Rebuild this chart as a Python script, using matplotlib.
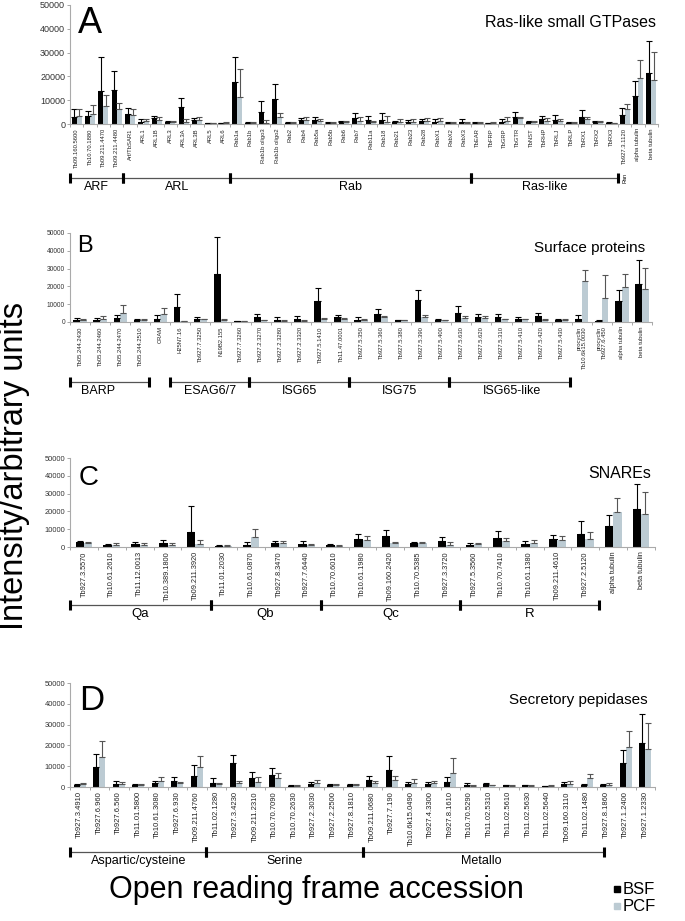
import matplotlib
matplotlib.use("Agg")
import matplotlib.pyplot as plt
import matplotlib.transforms as mtrans
import numpy as np

plt.rcParams['font.family'] = ['Liberation Sans', 'DejaVu Sans']

W, H = 685, 921
BSF_COL = 'black'
PCF_COL = '#bccbd3'

# values are in thousands of intensity units; *_hi = top of the error bar
# A - Ras-like small GTPases
labels_a = ["Tb09.160.5600", "Tb10.70.1880", "Tb09.211.4470", "Tb09.211.4480", "Arf/TbSAR1",
            "ARL1", "ARL1B", "ARL3", "ARL3A", "ARL3B", "ARL5", "ARL6",
            "Rab1a", "Rab1b", "Rab1b oligo3", "Rab1b oligo2", "Rab2", "Rab4", "Rab5a", "Rab5b",
            "Rab6", "Rab7", "Rab11a", "Rab18", "Rab21", "Rab23", "Rab28", "RabX1", "RabX2", "RabX3",
            "TbEAR", "TbFRP", "TbGRP", "TbGTR", "TbNST", "TbRHP", "TbRLJ", "TbRLP", "TbRX1", "TbRX2",
            "TbRX3", "Tb927.3.1120", "alpha tubulin", "beta tubulin"]
bsf_a = [3.0, 3.3, 14.0, 14.3, 4.2, 1.0, 2.6, 0.7, 7.2, 1.7, 0.4, 0.3, 17.5, 0.6, 5.0, 10.5,
         0.5, 1.7, 1.7, 0.4, 0.7, 2.4, 1.7, 1.5, 0.7, 0.7, 1.1, 1.0, 0.6, 0.8, 0.6, 0.3, 1.0,
         2.8, 0.8, 2.0, 1.7, 0.4, 2.8, 0.8, 0.6, 3.8, 11.7, 21.4]
bsf_a_hi = [6.1, 5.4, 28.3, 22.4, 6.8, 2.0, 3.5, 1.1, 11.1, 2.6, 0.6, 0.6, 28.0, 1.0, 9.5, 17.0,
            0.9, 2.7, 2.8, 0.8, 1.4, 4.5, 3.2, 4.5, 1.4, 1.5, 2.1, 2.1, 1.0, 2.0, 0.8, 0.5, 2.0,
            5.2, 1.4, 3.5, 3.6, 0.7, 5.9, 1.3, 0.8, 6.7, 18.0, 35.0]
pcf_a = [3.3, 4.3, 7.5, 6.5, 3.7, 1.4, 1.7, 0.8, 0.7, 1.7, 0.4, 0.5, 11.5, 0.4, 0.5, 3.0,
         0.6, 1.7, 1.1, 0.6, 0.8, 1.4, 0.8, 0.8, 0.9, 0.8, 1.4, 1.4, 0.6, 0.5, 0.5, 0.4, 1.4,
         2.4, 0.7, 1.4, 1.1, 0.4, 2.3, 0.8, 0.4, 6.1, 19.5, 18.4]
pcf_a_hi = [6.5, 7.8, 12.0, 9.0, 6.1, 2.0, 2.8, 1.2, 2.0, 2.8, 0.5, 0.8, 23.3, 0.7, 1.5, 4.8,
            1.0, 2.8, 2.0, 1.0, 1.4, 3.0, 1.4, 3.5, 2.1, 1.9, 2.4, 2.7, 1.0, 1.0, 0.8, 0.7, 2.8,
            3.0, 1.1, 2.4, 2.2, 0.7, 2.8, 1.4, 0.6, 8.5, 27.1, 30.3]
# name, start, end, label position
groups_a = [("ARF", -0.5, 3.5, 1.5), ("ARL", 3.5, 11.5, 7.5), ("Rab", 11.5, 29.5, 20.5),
            ("Ras-like", 29.5, 40.5, 35.0)]

# B - Surface proteins
labels_b = ["Tb05.244.2430", "Tb05.244.2460", "Tb05.244.2470", "Tb05.244.2510", "CRAM",
            "H25N7.16", "Tb927.7.3250", "N19B2.155", "Tb927.7.3260", "Tb927.2.3270",
            "Tb927.2.3280", "Tb927.2.3320", "Tb927.5.1410", "Tb11.47.0001", "Tb927.5.350",
            "Tb927.5.360", "Tb927.5.380", "Tb927.5.390", "Tb927.5.400", "Tb927.5.630",
            "Tb927.5.620", "Tb927.5.310", "Tb927.5.410", "Tb927.5.420", "Tb927.5.430",
            "procyclin\nTb10.6k15.0030", "procyclin\nTb927.6.450", "alpha tubulin", "beta tubulin"]
bsf_b = [1.3, 1.3, 2.4, 1.1, 1.5, 8.6, 1.7, 27.0, 0.5, 2.8, 0.9, 1.7, 12.0, 2.6, 1.3, 4.7, 0.9,
         12.2, 1.1, 5.0, 2.8, 2.8, 1.7, 3.2, 1.3, 1.7, 0.7, 12.0, 21.5]
bsf_b_hi = [2.0, 2.0, 3.9, 1.9, 3.9, 15.9, 2.8, 48.0, 0.7, 4.3, 2.8, 3.5, 19.3, 4.1, 2.6, 7.3,
            1.3, 18.2, 1.7, 9.2, 4.5, 4.5, 2.6, 4.9, 1.9, 3.7, 0.9, 17.8, 35.0]
pcf_b = [0.9, 1.9, 5.0, 1.1, 4.7, 0.4, 1.5, 1.1, 0.5, 0.9, 0.7, 0.7, 1.7, 1.7, 0.9, 2.8, 0.9,
         2.6, 0.9, 2.2, 2.2, 1.5, 1.5, 0.9, 1.1, 23.2, 13.7, 19.5, 18.4]
pcf_b_hi = [1.5, 3.5, 9.4, 1.7, 8.0, 0.6, 1.9, 1.7, 0.7, 1.3, 1.1, 1.1, 2.0, 2.0, 1.7, 3.5, 1.3,
            3.9, 1.3, 3.2, 3.2, 1.9, 1.9, 1.5, 1.5, 29.2, 26.4, 27.2, 30.5]
groups_b = [("BARP", -0.5, 3.45, 0.9), ("ESAG6/7", 4.5, 8.4, 6.5), ("ISG65", 8.4, 13.4, 10.95),
            ("ISG75", 13.4, 18.4, 15.9), ("ISG65-like", 18.4, 24.4, 21.5)]

# C - SNAREs
labels_c = ["Tb927.3.5570", "Tb10.61.2610", "Tb11.12.0013", "Tb10.389.1800", "Tb09.211.3920",
            "Tb11.01.2030", "Tb10.61.0870", "Tb927.8.3470", "Tb927.7.6440", "Tb10.70.6010",
            "Tb10.61.1980", "Tb09.160.2420", "Tb10.70.5385", "Tb927.3.3720", "Tb927.5.3560",
            "Tb10.70.7410", "Tb10.61.1380", "Tb09.211.4610", "Tb927.2.5120", "alpha tubulin",
            "beta tubulin"]
bsf_c = [2.8, 1.1, 1.5, 2.2, 8.4, 0.7, 1.3, 2.0, 1.9, 0.9, 4.5, 6.4, 2.0, 3.2, 1.3, 5.2, 1.9,
         4.5, 7.3, 12.0, 21.5]
bsf_c_hi = [3.4, 1.9, 2.8, 3.7, 22.8, 1.3, 2.8, 3.5, 3.2, 1.5, 7.1, 9.4, 2.8, 5.6, 2.0, 8.8,
            3.2, 6.9, 14.6, 18.0, 35.2]
pcf_c = [2.2, 1.3, 1.1, 1.3, 1.9, 0.6, 5.6, 2.2, 1.1, 0.7, 4.1, 2.2, 2.0, 1.3, 1.5, 3.2, 2.4,
         3.7, 4.3, 19.7, 18.4]
pcf_c_hi = [2.8, 2.2, 2.2, 2.4, 3.7, 0.9, 9.9, 3.5, 1.7, 1.1, 6.0, 3.0, 2.8, 2.8, 2.2, 5.0,
            3.9, 6.4, 8.6, 27.3, 30.7]
groups_c = [("Qa", -0.5, 4.55, 2.0), ("Qb", 4.55, 8.5, 6.5), ("Qc", 8.5, 13.5, 11.0),
            ("R", 13.5, 18.5, 16.0)]

# D - Secretory peptidases
labels_d = ["Tb927.3.4910", "Tb927.6.960", "Tb927.6.560", "Tb11.01.5800", "Tb10.61.3080",
            "Tb927.6.930", "Tb09.211.4760", "Tb11.02.1280", "Tb927.3.4230", "Tb09.211.2310",
            "Tb10.70.7090", "Tb10.70.2630", "Tb927.2.3030", "Tb927.2.2500", "Tb927.8.1810",
            "Tb09.211.0680", "Tb927.7.190", "Tb10.6k15.0490", "Tb927.4.3300", "Tb927.8.1610",
            "Tb10.70.5290", "Tb11.02.5310", "Tb11.02.5610", "Tb11.02.5630", "Tb11.02.5640",
            "Tb09.160.3110", "Tb11.02.1480", "Tb927.8.1860", "Tb927.1.2400", "Tb927.1.2330"]
bsf_d = [1.0, 9.7, 1.6, 1.0, 1.8, 3.0, 5.1, 2.1, 11.3, 4.3, 5.6, 0.6, 1.6, 1.0, 1.0, 3.5, 8.3,
         1.6, 1.6, 2.2, 1.0, 1.3, 0.8, 0.8, 0.3, 1.4, 1.0, 0.8, 11.6, 21.2]
bsf_d_hi = [1.3, 15.9, 2.7, 1.6, 2.7, 4.6, 10.5, 4.3, 15.3, 7.0, 8.9, 1.0, 2.5, 1.3, 1.3, 5.4,
            14.8, 2.5, 2.5, 4.8, 1.8, 2.1, 1.1, 1.0, 0.5, 2.2, 1.4, 1.6, 18.0, 35.0]
pcf_d = [1.3, 14.3, 1.4, 0.8, 2.9, 1.8, 9.6, 1.3, 1.9, 2.4, 4.1, 0.6, 1.9, 1.0, 1.1, 1.9, 3.2,
         1.9, 1.9, 6.7, 0.5, 0.8, 0.6, 0.6, 0.6, 1.4, 4.1, 1.1, 19.3, 18.2]
pcf_d_hi = [1.8, 22.0, 2.2, 1.4, 4.8, 2.4, 14.8, 1.9, 2.9, 4.6, 6.5, 1.0, 3.2, 1.4, 1.6, 2.7,
            5.4, 3.8, 2.9, 13.9, 0.8, 1.1, 1.0, 0.8, 1.0, 2.9, 6.1, 2.1, 27.1, 30.6]
groups_d = [("Aspartic/cysteine", -0.5, 6.45, 3.0), ("Serine", 6.45, 14.5, 10.5),
            ("Metallo", 14.5, 26.9, 20.6)]


def fx(px):
    return px / W


def fy(py):
    return 1 - py / H


def panel(fig, box, labels, bsf, bsf_hi, pcf, pcf_hi, width, tick_fs, ytick_fs):
    left, top, right, bottom = box
    ax = fig.add_axes([fx(left), fy(bottom), (right - left) / W, (bottom - top) / H])
    x = np.arange(len(labels))
    b = np.array(bsf) * 1000
    p = np.array(pcf) * 1000
    ax.bar(x - width / 2, b, width, color=BSF_COL, zorder=2)
    ax.bar(x + width / 2, p, width, color=PCF_COL, zorder=2)
    ax.errorbar(x - width / 2, b, yerr=[np.zeros_like(b), np.array(bsf_hi) * 1000 - b],
                fmt='none', ecolor='black', elinewidth=0.8, capsize=2, capthick=0.8, zorder=3)
    ax.errorbar(x + width / 2, p, yerr=[np.zeros_like(p), np.array(pcf_hi) * 1000 - p],
                fmt='none', ecolor='#555555', elinewidth=0.8, capsize=2, capthick=0.8, zorder=3)
    ax.set_yticks(range(0, 50001, 10000))
    ax.set_xticks(x)
    ax.set_xticklabels(labels, rotation=90, fontsize=tick_fs, color='#222222',
                       multialignment='right')
    ax.set_xticks(np.arange(len(labels) + 1) - 0.5, minor=True)
    ax.tick_params(axis='x', which='major', length=0, pad=3)
    ax.tick_params(axis='x', which='minor', length=2, color='#999999', width=0.6)
    ax.tick_params(axis='y', length=2, color='#999999', width=0.6, labelsize=ytick_fs,
                   labelcolor='#333333', pad=1.5)
    for s in ['top', 'right']:
        ax.spines[s].set_visible(False)
    for s in ['left', 'bottom']:
        ax.spines[s].set_color('#aaaaaa')
        ax.spines[s].set_linewidth(0.8)
    return ax


def brackets(fig, ax, groups, ypx, fs):
    tr = mtrans.blended_transform_factory(ax.transData, fig.transFigure)
    for name, x0, x1, xl in groups:
        ax.plot([x0, x1], [fy(ypx), fy(ypx)], transform=tr, color='#555555', lw=0.9,
                clip_on=False)
        ax.plot([x0, x1], [fy(ypx), fy(ypx)], transform=tr, ls='none', marker='|', ms=6.5,
                mew=2.2, color='black', clip_on=False)
        ax.text(xl, fy(ypx + 3), name, transform=tr, ha='center', va='top', fontsize=fs)
    ax.set_xlim(-0.5, len(ax.get_xticks()) - 0.5)
    ax.set_ylim(0, 50000)


fig = plt.figure(figsize=(W / 100, H / 100), dpi=100)

ax_a = panel(fig, (70, 5, 658, 124), labels_a, bsf_a, bsf_a_hi, pcf_a, pcf_a_hi, 0.38, 4.2, 6.5)
tr = mtrans.blended_transform_factory(ax_a.transData, fig.transFigure)
ax_a.text(41, fy(178), "Ran", transform=tr, rotation=90, fontsize=4, ha='center', va='center')
brackets(fig, ax_a, groups_a, 178, 9)

ax_b = panel(fig, (70, 233, 652, 322), labels_b, bsf_b, bsf_b_hi, pcf_b, pcf_b_hi, 0.33, 4.2, 4.8)
brackets(fig, ax_b, groups_b, 382, 9)

ax_c = panel(fig, (70, 458, 655, 547), labels_c, bsf_c, bsf_c_hi, pcf_c, pcf_c_hi, 0.3, 5.3, 5.4)
brackets(fig, ax_c, groups_c, 605, 9.5)

ax_d = panel(fig, (70, 683, 655, 787), labels_d, bsf_d, bsf_d_hi, pcf_d, pcf_d_hi, 0.31, 5.5, 5.4)
brackets(fig, ax_d, groups_d, 852, 9)

# panel letters and titles
fig.text(fx(78), fy(33), "A", fontsize=26, va='baseline')
fig.text(fx(77), fy(252), "B", fontsize=17, va='baseline')
fig.text(fx(79), fy(485), "C", fontsize=20, va='baseline')
fig.text(fx(79), fy(710), "D", fontsize=25, va='baseline')
fig.text(fx(656), fy(27), "Ras-like small GTPases", fontsize=11.5, ha='right', va='baseline')
fig.text(fx(645), fy(252), "Surface proteins", fontsize=11, ha='right', va='baseline')
fig.text(fx(651), fy(478), "SNAREs", fontsize=11.5, ha='right', va='baseline')
fig.text(fx(648), fy(704), "Secretory pepidases", fontsize=11, ha='right', va='baseline')

# axis titles
fig.text(fx(15), fy(466), "Intensity/arbitrary units", rotation=90, fontsize=23.5,
         ha='center', va='center')
fig.text(fx(316), fy(898), "Open reading frame accession", fontsize=22, ha='center',
         va='baseline')

# legend
for i, (name, col) in enumerate([("BSF", BSF_COL), ("PCF", PCF_COL)]):
    yc = 889 + 17 * i
    fig.add_artist(plt.Rectangle((fx(614), fy(yc + 3)), 6 / W, 6 / H,
                                 transform=fig.transFigure, color=col))
    fig.text(fx(623), fy(yc), name, fontsize=12, va='center')

fig.savefig("out.png", dpi=100)
